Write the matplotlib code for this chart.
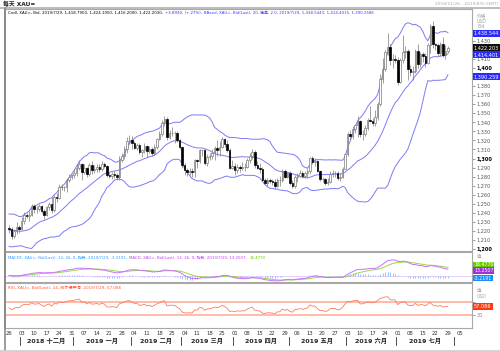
import matplotlib
matplotlib.use("Agg")
import matplotlib.pyplot as plt
import matplotlib.transforms as mtransforms
from matplotlib.lines import Line2D
import numpy as np
import pandas as pd

plt.rcParams['font.family'] = ['DejaVu Sans', 'Noto Sans CJK SC']

W, H = 500, 352

# closes before the first bar (Oct 1 - Nov 23 2018), only used to warm up the indicators
pre_close = [1191, 1204, 1203, 1200, 1203, 1189, 1189, 1194, 1224, 1218,
             1232, 1225, 1223, 1227, 1227, 1222, 1230, 1232, 1231, 1235,
             1228, 1223, 1215, 1233, 1232, 1232, 1227, 1226, 1224, 1210,
             1201, 1202, 1211, 1215, 1222, 1224, 1221, 1227, 1227, 1223]

# daily bars, 2018-11-26 .. 2019-07-29, one week per line
close = [1222, 1214, 1220, 1224, 1222,
         1231, 1238, 1237, 1238, 1248,
         1244, 1244, 1247, 1242, 1238,
         1246, 1250, 1243, 1258, 1256,
         1269, 1268, 1268, 1276, 1280,
         1282, 1284, 1290, 1294, 1285,
         1290, 1283, 1293, 1287, 1288,
         1291, 1288, 1294, 1292, 1282,
         1281, 1283, 1282, 1280, 1298,
         1303, 1311, 1319, 1321, 1317,
         1312, 1315, 1307, 1309, 1314,
         1308, 1311, 1306, 1313, 1322,
         1327, 1339, 1344, 1324, 1328,
         1328, 1328, 1320, 1313, 1293,
         1287, 1285, 1286, 1285, 1298,
         1297, 1309, 1309, 1295, 1302,
         1303, 1306, 1312, 1309, 1313,
         1322, 1316, 1309, 1290, 1292,
         1287, 1291, 1290, 1291, 1291,
         1298, 1303, 1307, 1293, 1290,
         1288, 1276, 1273, 1276, 1275,
         1274, 1270, 1276, 1276, 1286,
         1280, 1284, 1273, 1270, 1280,
         1281, 1284, 1281, 1284, 1286,
         1301, 1296, 1297, 1286, 1277,
         1277, 1273, 1274, 1283, 1284,
         1284, 1278, 1280, 1288, 1305,
         1327, 1325, 1333, 1337, 1341,
         1327, 1327, 1334, 1342, 1341,
         1339, 1346, 1360, 1388, 1399,
         1418, 1423, 1409, 1410, 1409,
         1385, 1409, 1418, 1419, 1399,
         1396, 1397, 1419, 1404, 1415,
         1413, 1406, 1425, 1446, 1426,
         1425, 1417, 1427, 1414, 1418.3,
         1422.2]

high = [1226, 1224, 1222, 1230, 1227,
        1235, 1241, 1240, 1242, 1250,
        1250, 1248, 1250, 1249, 1244,
        1248, 1252, 1258, 1260, 1262,
        1272, 1272, 1270, 1278, 1283,
        1283, 1288, 1294, 1298, 1295,
        1294, 1291, 1295, 1297, 1293,
        1294, 1294, 1297, 1296, 1293,
        1285, 1285, 1286, 1284, 1303,
        1306, 1314, 1324, 1326, 1325,
        1319, 1317, 1317, 1311, 1317,
        1315, 1314, 1313, 1316, 1323,
        1330, 1342, 1347, 1346, 1331,
        1335, 1330, 1330, 1322, 1314,
        1295, 1289, 1290, 1290, 1300,
        1300, 1311, 1311, 1310, 1305,
        1306, 1310, 1314, 1320, 1319,
        1324, 1323, 1320, 1312, 1298,
        1295, 1294, 1293, 1296, 1295,
        1301, 1306, 1310, 1309, 1297,
        1295, 1291, 1279, 1279, 1278,
        1277, 1277, 1278, 1281, 1288,
        1288, 1285, 1286, 1276, 1282,
        1284, 1287, 1286, 1286, 1289,
        1302, 1303, 1301, 1298, 1287,
        1280, 1279, 1278, 1286, 1287,
        1286, 1286, 1284, 1291, 1306,
        1329, 1332, 1336, 1338, 1347,
        1343, 1331, 1337, 1345, 1358,
        1345, 1354, 1362, 1393, 1411,
        1420, 1439, 1426, 1416, 1414,
        1412, 1411, 1437, 1424, 1421,
        1403, 1402, 1421, 1426, 1418,
        1418, 1417, 1428, 1449, 1452,
        1428, 1428, 1429, 1434, 1425,
        1424.1]

low = [1218, 1211, 1212, 1217, 1218,
       1221, 1228, 1234, 1231, 1236,
       1240, 1240, 1242, 1240, 1233,
       1236, 1243, 1240, 1241, 1252,
       1255, 1265, 1264, 1263, 1274,
       1277, 1279, 1281, 1287, 1276,
       1283, 1280, 1281, 1283, 1284,
       1285, 1285, 1286, 1289, 1280,
       1278, 1277, 1278, 1276, 1276,
       1296, 1300, 1306, 1316, 1311,
       1310, 1309, 1305, 1302, 1306,
       1302, 1306, 1303, 1304, 1310,
       1320, 1325, 1336, 1321, 1322,
       1325, 1317, 1318, 1311, 1290,
       1282, 1281, 1282, 1280, 1280,
       1289, 1295, 1303, 1293, 1292,
       1298, 1300, 1298, 1303, 1303,
       1312, 1313, 1307, 1288, 1288,
       1282, 1284, 1285, 1287, 1286,
       1290, 1295, 1300, 1290, 1288,
       1284, 1275, 1272, 1270, 1273,
       1271, 1266, 1268, 1270, 1274,
       1278, 1278, 1271, 1267, 1267,
       1274, 1280, 1279, 1279, 1280,
       1283, 1294, 1292, 1285, 1275,
       1274, 1271, 1271, 1273, 1280,
       1280, 1276, 1275, 1279, 1288,
       1303, 1320, 1322, 1328, 1324,
       1324, 1320, 1325, 1331, 1340,
       1336, 1336, 1343, 1358, 1383,
       1397, 1414, 1403, 1400, 1405,
       1381, 1383, 1405, 1411, 1387,
       1391, 1387, 1394, 1400, 1401,
       1407, 1401, 1404, 1417, 1422,
       1420, 1413, 1413, 1412, 1410,
       1416.2]

month_names = ["2018 十二月", "2019 一月", "2019 二月", "2019 三月",
               "2019 四月", "2019 五月", "2019 六月", "2019 七月"]

# values printed in the legends / right-hand boxes
bb_last = [("1,438.544", 1438.5443, '#2a2aff'), ("1,422.203", 1422.203, '#111111'),
           ("1,414.401", 1414.4015, '#2a2aff'), ("1,390.259", 1390.2586, '#2a2aff')]
macd_last = [("16.4770", '#66cc00', 265), ("13.2507", '#a030d8', 270.5), ("-3.2191", '#1a8cff', 278)]
rsi_last = "57.086"

title_main = [("Cndl, XAU=, Bid, 2019/7/29, 1,418.7900, 1,424.1050, 1,416.2000, 1,422.2030, ", '#000000'),
              ("+3.8930, (+.27%), ", '#2a2aff'),
              ("BBand, XAU=, Bid(Last), 20, 简单, 2.0, 2019/7/29, 1,438.5443, 1,414.4015, 1,390.2586", '#3a3aff')]
title_macd = [("MACDF, XAU=, Bid(Last), 12, 26, 9, 指数, 2019/7/29, -3.2191, ", '#3399ff'),
              ("MACD, XAU=, Bid(Last), 12, 26, 9, 指数, 2019/7/29, 13.2507, ", '#c040f0'),
              ("16.4770", '#66cc00')]
title_rsi = [("RSI, XAU=, Bid(Last), 14, 威尔德平滑, 2019/7/29, 57.086", '#ff5533')]

# ---- derived series
dates = pd.bdate_range('2018-11-26', '2019-08-05')   # axis runs one week past last bar
n = len(close)
x = np.arange(n)
c = np.array(close, float)
o = np.array([pre_close[-1]] + close[:-1], float)
hi = np.array(high, float)
lo = np.array(low, float)

s = pd.Series(pre_close + close, dtype=float)
k = len(pre_close)
mid = s.rolling(20).mean().to_numpy()[k:]
sd = s.rolling(20).std(ddof=0).to_numpy()[k:]
macd_s = s.ewm(span=12, adjust=False).mean() - s.ewm(span=26, adjust=False).mean()
sig_s = macd_s.ewm(span=9, adjust=False).mean()
macd = macd_s.to_numpy()[k:]
sig = sig_s.to_numpy()[k:]
hist = macd - sig
d = s.diff().fillna(0)
ag = d.clip(lower=0).ewm(alpha=1/14, adjust=False).mean()
al = (-d.clip(upper=0)).ewm(alpha=1/14, adjust=False).mean()
rsi = (100 - 100 / (1 + ag / al)).to_numpy()[k:]

# ---- layout (pixel boxes)
def fy(p):
    return 1 - p / H

def box(top, bottom):
    return [5 / W, 1 - bottom / H, 467 / W, (bottom - top) / H]

fig = plt.figure(figsize=(W / 100, H / 100), dpi=100)
ax = fig.add_axes(box(9, 251))
axm = fig.add_axes(box(252, 282))
axr = fig.add_axes(box(283, 328))

xlim = ((5 - 9) / 2.508, (472 - 9) / 2.508)
for a in (ax, axm, axr):
    a.set_xlim(*xlim)
    for sp in a.spines.values():
        sp.set_color('#a8a8a8')
        sp.set_linewidth(0.8)
    a.spines['left'].set_color('#808080')
    a.spines['left'].set_linewidth(1.2)
ax.set_ylim(1197.8, 1465.2)
axm.set_ylim(-10, 44.5)
axr.set_ylim(-10, 128.5)

# ---- main: candles + bollinger
ax.plot(x, mid + 2 * sd, color='#7b7bf5', lw=0.7, zorder=1)
ax.plot(x, mid, color='#7b7bf5', lw=0.7, zorder=1)
ax.plot(x, mid - 2 * sd, color='#7b7bf5', lw=0.7, zorder=1)
ax.vlines(x, lo, hi, color='#7a7a7a', lw=0.5, zorder=2)
up = c >= o
ax.bar(x[up], (c - o)[up], bottom=o[up], width=0.62, color='white',
       edgecolor='#7a7a7a', linewidth=0.5, zorder=3)
ax.bar(x[~up], (o - c)[~up], bottom=c[~up], width=0.62, color='black',
       edgecolor='black', linewidth=0.5, zorder=3)

ax.yaxis.tick_right()
yt = np.arange(1200, 1440, 10)
hidden = {1390, 1420}          # covered by the value boxes
ax.set_yticks(yt)
ax.set_yticklabels(['' if v in hidden else f"{v:,}" for v in yt])
ax.tick_params(axis='y', length=2, width=0.5, color='#777777', pad=1,
               labelsize=3.6, labelcolor='#555555')
for lab, v in zip(ax.get_yticklabels(), yt):
    if v % 100 == 0:
        lab.set_fontweight('bold')
        lab.set_color('black')
ax.tick_params(axis='x', bottom=False, labelbottom=False)

rt = mtransforms.blended_transform_factory(fig.transFigure, ax.transData)
for txt, val, col in bb_last:
    ax.text(474 / W, val, txt, transform=rt, fontsize=3.6, color='white',
            va='center', ha='left', zorder=10, clip_on=False,
            bbox=dict(boxstyle='square,pad=0.2', fc=col, ec='none'))
for txt, p in [("价格", 15.5), ("USD", 21.5), ("Bid", 27)]:
    fig.text(477 / W, fy(p), txt, fontsize=3.3, color='#a0a0a0', va='center')

# ---- MACD
axm.axhline(0, color='#e2c8ff', lw=0.6, zorder=1)
axm.vlines(x, 0, hist, color='#7dbbff', lw=0.6, zorder=2)
axm.plot(x, sig, color='#9ad84a', lw=0.7, zorder=3)
axm.plot(x, macd, color='#cc70ff', lw=0.7, zorder=3)
axm.tick_params(axis='both', left=False, bottom=False, labelleft=False, labelbottom=False)
for txt, col, p in macd_last:
    fig.text(474 / W, fy(p), txt, fontsize=3.4, color='white', va='center', ha='left',
             bbox=dict(boxstyle='square,pad=0.2', fc=col, ec='none'))
fig.text(477 / W, fy(257), "值", fontsize=3.3, color='#a0a0a0', va='center')

# ---- RSI
axr.axhline(70, color='#ffb4a4', lw=1.3, zorder=1)
axr.axhline(30, color='#ffb4a4', lw=1.3, zorder=1)
axr.plot(x, rsi, color='#ff7a5c', lw=0.6, zorder=2)
axr.yaxis.tick_right()
axr.set_yticks([30, 70])
axr.set_yticklabels(['30', ''])
axr.tick_params(axis='y', length=2, width=0.5, color='#777777', pad=1,
                labelsize=3.6, labelcolor='#888888')
fig.text(474 / W, fy(306), rsi_last, fontsize=3.6, color='white', va='center', ha='left',
         bbox=dict(boxstyle='square,pad=0.2', fc='#ff3a10', ec='none'))
for txt, p in [("值", 290.5), ("USD", 296.5)]:
    fig.text(477 / W, fy(p), txt, fontsize=3.3, color='#a0a0a0', va='center')

# date axis
tick_idx = np.arange(0, len(dates), 5)
axr.set_xticks(tick_idx)
axr.set_xticklabels([dates[i].strftime('%d') for i in tick_idx])
axr.tick_params(axis='x', length=0, pad=2.0, labelsize=3.8, labelcolor='#333333')

months = dates.month
seps = [i - 0.5 for i in range(1, len(dates)) if months[i] != months[i - 1]]
mt = mtransforms.blended_transform_factory(axr.transData, fig.transFigure)
for sx in seps:
    fig.add_artist(Line2D([sx, sx], [fy(337), fy(344.5)], transform=mt, color='#333333', lw=0.6))
for name, a, b in zip(month_names, seps[:-1], seps[1:]):
    fig.text((a + b) / 2, fy(341), name, transform=mt, ha='center', va='center',
             fontsize=4.5, fontweight='bold', color='#222222')

# ---- legends (coloured runs of text, placed one after another)
renderer = fig.canvas.get_renderer()

def legend_line(y_px, parts, size):
    x0 = 8.0
    for txt, col in parts:
        t = fig.text(x0 / W, fy(y_px), txt, color=col, fontsize=size, va='center')
        x0 = t.get_window_extent(renderer=renderer).x1 + 1

legend_line(12.5, title_main, 2.78)
legend_line(258, title_macd, 2.82)
legend_line(287.5, title_rsi, 2.95)

# ---- window chrome
fig.text(3 / W, fy(4), "每天 XAU=", fontsize=4.2, fontweight='bold', color='#222222', va='center')
fig.text(498 / W, fy(4), "2018/11/26 - 2019/8/9 (GMT)", fontsize=3.2, color='#aaaaaa',
         va='center', ha='right')
fig.add_artist(Line2D([0, 1], [fy(7.5), fy(7.5)], color='#b0b0b0', lw=1.2))
fig.add_artist(Line2D([4.5 / W, 4.5 / W], [fy(8), fy(352)], color='#8a8a8a', lw=1.2))
fig.add_artist(Line2D([0, 1], [fy(350.5), fy(350.5)], color='#d0d0d0', lw=2))

fig.savefig("out.png", dpi=100, facecolor='white')
